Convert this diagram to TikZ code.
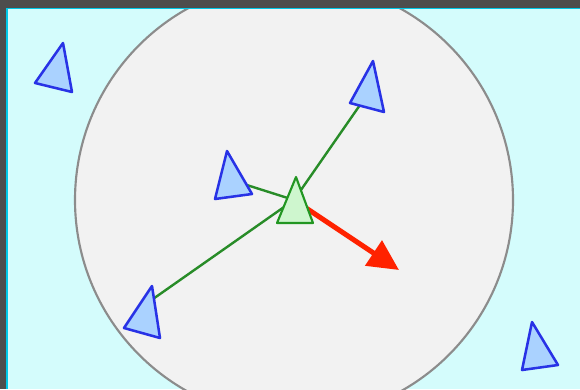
\documentclass[tikz,border=0pt]{standalone}
\usetikzlibrary{arrows.meta}
\definecolor{bgcyan}{RGB}{212,252,252}
\definecolor{framegray}{RGB}{77,77,77}
\definecolor{framecyan}{RGB}{0,200,232}
\definecolor{zonefill}{RGB}{242,242,242}
\definecolor{zoneline}{RGB}{140,140,140}
\definecolor{boidfill}{RGB}{170,210,255}
\definecolor{boidline}{RGB}{40,50,230}
\definecolor{selffill}{RGB}{206,246,206}
\definecolor{selfline}{RGB}{34,150,34}
\definecolor{linkline}{RGB}{40,140,40}
\definecolor{steer}{RGB}{255,34,0}
\tikzset{
  boid/.style={draw=boidline, fill=boidfill, line width=1.9pt, line join=round},
  selfboid/.style={draw=selfline, fill=selffill, line width=1.6pt, line join=round},
  link/.style={draw=linkline, line width=1.8pt},
  steerarrow/.style={draw=steer, line width=3.8pt, -{Triangle[length=23pt,width=22pt]}},
  zone/.style={draw=zoneline, fill=zonefill, line width=1.6pt}
}
\begin{document}
\begin{tikzpicture}[x=0.75pt,y=-0.75pt]
\useasboundingbox (0,0) rectangle (580,389);
\clip (0,0) rectangle (580,389);
\fill[bgcyan] (0,0) rectangle (580,389);
% neighbourhood zone
\coordinate (me) at (294,200);
\draw[zone] (me) circle[radius=164.25pt];
% neighbour positions
\coordinate (nA) at (369,92);
\coordinate (nB) at (231,180);
\coordinate (nC) at (143,306);
\coordinate (tip) at (399,270);
% links to neighbours
\draw[link] (me) -- (nA);
\draw[link] (me) -- (nB);
\draw[link] (me) -- (nC);
% steering arrow
\draw[steerarrow] (me) -- (tip);
% boids
\draw[boid] (63,43) -- (35,83) -- (72,92) -- cycle;
\draw[boid] (152,286) -- (124,328) -- (160,338) -- cycle;
\draw[boid] (532,322) -- (522,370) -- (558,365) -- cycle;
\draw[boid] (373,61) -- (350,103) -- (384,112) -- cycle;
\draw[boid] (227,151) -- (215,199) -- (252,194) -- cycle;
\draw[selfboid] (296,177) -- (277,223) -- (313,223) -- cycle;
% window frame
\fill[framegray] (0,0) rectangle (580,7.5);
\fill[framegray] (0,0) rectangle (6,389);
\fill[framecyan] (6,7.5) rectangle (580,9);
\fill[framecyan] (6,7.5) rectangle (7.5,389);
\end{tikzpicture}
\end{document}
